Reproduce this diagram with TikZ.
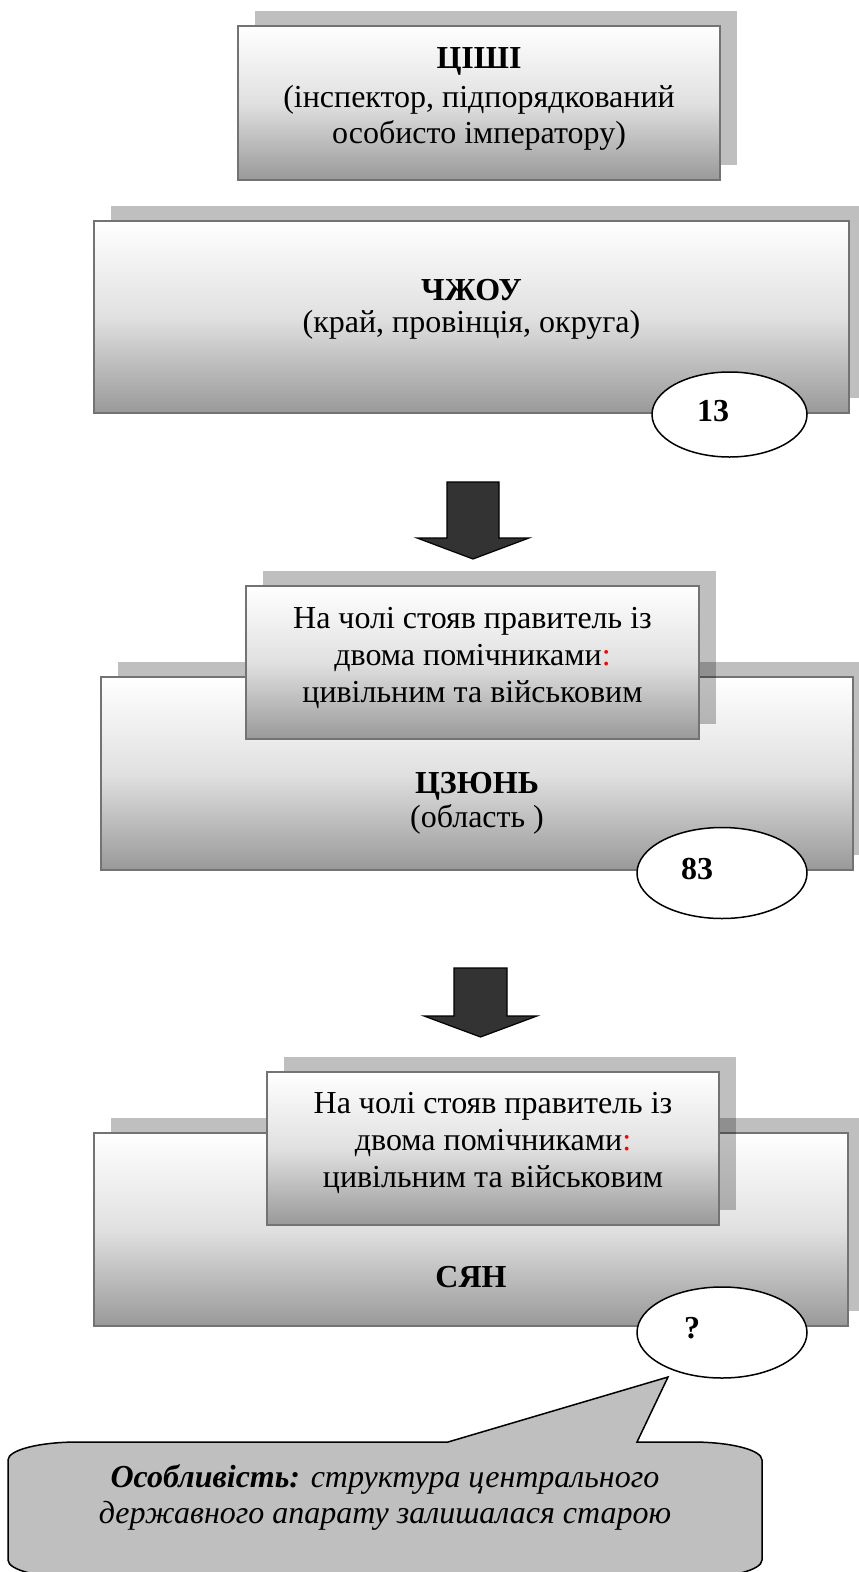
\documentclass[tikz,border=0pt]{standalone}
\usepackage{fontspec}
\setmainfont{Liberation Serif}
\usetikzlibrary{shapes.geometric,shadows}
\begin{document}
\begin{tikzpicture}[x=1pt,y=-1pt,
  panel/.style={rectangle, draw=black!55, line width=2.5pt, top color=white, bottom color=black!40, middle color=black!12, inner sep=0pt,
    drop shadow={shadow xshift=17pt, shadow yshift=15pt, fill=black, opacity=0.25}},
  oval/.style={ellipse, draw=black, line width=1.5pt, fill=white, inner sep=0pt, minimum width=170pt, minimum height=91pt},
  txt/.style={inner sep=0pt, anchor=base, font=\fontsize{32}{37}\selectfont},
  head/.style={txt, font=\fontsize{32}{37}\selectfont\bfseries},
  itx/.style={txt, font=\fontsize{32}{37}\selectfont\itshape},
  blockarrow/.style={fill=black!80, draw=black, line width=1.2pt, line join=miter},
  bubble/.style={fill=black!25, draw=black, line width=1.5pt}
]
\useasboundingbox (0,0) rectangle (859,1572);

% ЦІШІ
\node[panel, minimum width=482pt, minimum height=154pt] (cishi) at (479,103) {};
\node[head] (cishiT) at (479,68) {ЦІШІ};
\node[txt] (cishiA) at (479,107) {(інспектор, підпорядкований};
\node[txt] (cishiB) at (479,143) {особисто імператору)};

% ЧЖОУ
\node[panel, minimum width=755pt, minimum height=192pt] (chzhou) at (471.5,317) {};
\node[head] (chzhouT) at (471.5,300) {ЧЖОУ};
\node[txt] (chzhouA) at (471.5,332) {(край, провінція, округа)};
\node[oval, minimum width=155pt, minimum height=85pt] (e13) at (729.5,414.5) {};
\node[head] (n13) at (713,421) {13};

% arrow 1
\draw[blockarrow] (447,482) -- (499,482) -- (499,538) -- (529,538) -- (473,559) -- (417,538) -- (447,538) -- cycle;

% ЦЗЮНЬ
\node[panel, minimum width=752pt, minimum height=193pt] (czyun) at (477,773.5) {};
\node[panel, minimum width=453pt, minimum height=153pt] (ruler1) at (472.5,662.5) {};
\node[txt] (r1a) at (472.5,628) {На чолі стояв правитель із};
\node[txt] (r1b) at (472.5,665) {двома помічниками\textcolor{red}{:}};
\node[txt] (r1c) at (472.5,702) {цивільним та військовим};
\node[head] (czyunT) at (477,793) {ЦЗЮНЬ};
\node[txt] (czyunA) at (477,827) {(область )};
\node[oval] (e83) at (722,873) {};
\node[head] (n83) at (697,879) {83};

% arrow 2
\draw[blockarrow] (454,968) -- (507,968) -- (507,1016) -- (537,1016) -- (480.5,1037) -- (424,1016) -- (454,1016) -- cycle;

% СЯН
\node[panel, minimum width=754pt, minimum height=193pt] (syan) at (471,1229.5) {};
\node[panel, minimum width=452pt, minimum height=153pt] (ruler2) at (493,1148.5) {};
\node[txt] (r2a) at (493,1113) {На чолі стояв правитель із};
\node[txt] (r2b) at (493,1150) {двома помічниками\textcolor{red}{:}};
\node[txt] (r2c) at (493,1187) {цивільним та військовим};
\node[head] (syanT) at (471,1287) {СЯН};
\node[oval] (eq) at (722,1332.5) {};
\node[head] (nq) at (692,1338) {?};

% callout
\draw[bubble] (8,1460) .. controls (8,1450) and (39,1442) .. (78,1442) -- (448,1442) -- (668,1377) -- (637,1442) -- (692,1442)
  .. controls (731,1442) and (762,1450) .. (762,1460) -- (762,1560) .. controls (762,1570) and (731,1578) .. (692,1578)
  -- (78,1578) .. controls (39,1578) and (8,1570) .. (8,1560) -- cycle;
\node[itx] (noteA) at (385,1487) {\textbf{Особливість:} структура центрального};
\node[itx] (noteB) at (385,1523) {державного апарату залишалася старою};
\end{tikzpicture}
\end{document}
